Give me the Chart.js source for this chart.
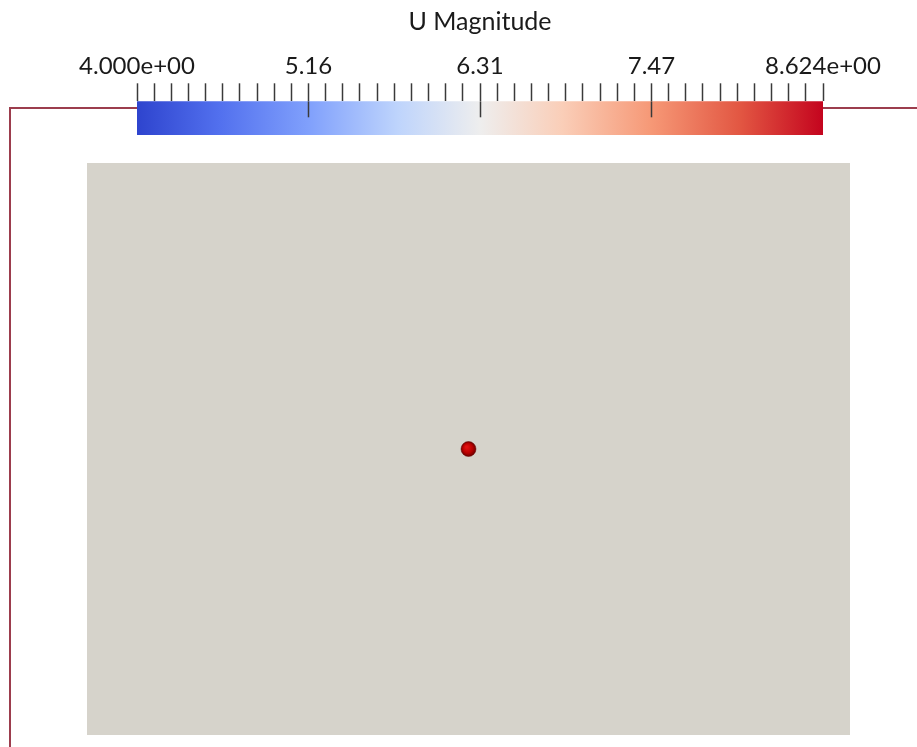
<!DOCTYPE html>
<html>
<head>
<meta charset="utf-8">
<script src="https://cdn.jsdelivr.net/npm/chart.js@4.4.1/dist/chart.umd.min.js"></script>
<style>
    html, body { margin: 0; padding: 0; background: #ffffff; }
    #stage { position: relative; width: 917px; height: 747px; overflow: hidden; background: #ffffff; }
    #frame {
        position: absolute; left: 9px; top: 107px; width: 940px; height: 700px;
        border-left: 2px solid #9c3d4d; border-top: 2px solid #9c3d4d;
    }
    #scene-wrap { position: absolute; left: 87px; top: 163px; width: 763px; height: 572px; }
    #bar-wrap { position: absolute; left: 0; top: 0; width: 917px; height: 137px; }
</style>
</head>
<body>
<div id="stage">
    <div id="frame"></div>
    <div id="scene-wrap"><canvas id="scene"></canvas></div>
    <div id="bar-wrap"><canvas id="colorbar"></canvas></div>
</div>
<script>
// Colour legend range and labels
const rangeMin = 4.000;
const rangeMax = 8.624;
const tickLabels = ['4.000e+00', '5.16', '6.31', '7.47', '8.624e+00'];
const majorValues = [5.156, 6.312, 7.468];
const tickIntervals = 40;

// Scene extents and the probe sphere position
const sceneX = [-1, 1];
const sceneY = [-0.75, 0.75];
const probePoints = [{ x: 0, y: 0 }];

// Cool to Warm colour map
const coolWarm = [
    [0.00, 'rgb(46, 68, 206)'],
    [0.12, 'rgb(82, 112, 238)'],
    [0.25, 'rgb(128, 160, 252)'],
    [0.38, 'rgb(190, 212, 252)'],
    [0.50, 'rgb(238, 238, 238)'],
    [0.62, 'rgb(250, 206, 184)'],
    [0.75, 'rgb(246, 152, 118)'],
    [0.88, 'rgb(226, 86, 66)'],
    [1.00, 'rgb(196, 4, 30)']
];

Chart.defaults.font.family = "Lato, 'Noto Sans', sans-serif";
Chart.defaults.animation = false;

const majorTicks = {
    id: 'majorTicks',
    afterDatasetsDraw(chart) {
        const scale = chart.scales.x;
        const area = chart.chartArea;
        const c = chart.ctx;
        c.save();
        c.strokeStyle = '#3a3a3a';
        c.lineWidth = 1.5;
        majorValues.forEach(v => {
            const x = Math.round(scale.getPixelForValue(v)) + 0.5;
            c.beginPath();
            c.moveTo(x, area.top);
            c.lineTo(x, area.top + 16);
            c.stroke();
        });
        c.restore();
    }
};

new Chart(document.getElementById('colorbar'), {
    type: 'bar',
    data: {
        labels: ['U Magnitude'],
        datasets: [{
            data: [[rangeMin, rangeMax]],
            barPercentage: 1,
            categoryPercentage: 1,
            borderWidth: 0,
            backgroundColor: (ctx) => {
                const area = ctx.chart.chartArea;
                if (!area) return coolWarm[0][1];
                const g = ctx.chart.ctx.createLinearGradient(area.left, 0, area.right, 0);
                coolWarm.forEach(([t, col]) => g.addColorStop(t, col));
                return g;
            }
        }]
    },
    options: {
        indexAxis: 'y',
        responsive: true,
        maintainAspectRatio: false,
        layout: { padding: { left: 137, right: 94, top: 4, bottom: 2 } },
        plugins: {
            legend: { display: false },
            tooltip: { enabled: false },
            title: {
                display: true,
                text: 'U Magnitude',
                color: '#1a1a1a',
                font: { size: 25, weight: 'normal' },
                padding: { top: 3, bottom: 11.5 }
            }
        },
        scales: {
            x: {
                position: 'top',
                min: rangeMin,
                max: rangeMax,
                afterBuildTicks: (scale) => {
                    const step = (rangeMax - rangeMin) / tickIntervals;
                    scale.ticks = Array.from({ length: tickIntervals + 1 }, (_, i) => ({ value: rangeMin + i * step }));
                },
                ticks: {
                    autoSkip: false,
                    maxRotation: 0,
                    padding: 3,
                    color: '#1a1a1a',
                    font: { size: 24 },
                    callback: (value, index) => index % 10 === 0 ? tickLabels[index / 10] : ''
                },
                grid: {
                    drawOnChartArea: false,
                    tickLength: 18,
                    tickColor: '#3a3a3a',
                    tickWidth: 1.5
                },
                border: { display: false }
            },
            y: { display: false }
        }
    },
    plugins: [majorTicks]
});

const sceneBackground = {
    id: 'sceneBackground',
    beforeDraw(chart) {
        const a = chart.chartArea;
        chart.ctx.save();
        chart.ctx.fillStyle = '#d6d3cb';
        chart.ctx.fillRect(a.left, a.top, a.right - a.left, a.bottom - a.top);
        chart.ctx.restore();
    }
};

new Chart(document.getElementById('scene'), {
    type: 'scatter',
    data: {
        datasets: [{
            data: probePoints,
            pointRadius: 7.5,
            pointBorderWidth: 0.5,
            pointBorderColor: '#6a0000',
            pointBackgroundColor: (ctx) => {
                const chart = ctx.chart;
                if (!chart.chartArea || !ctx.raw) return '#b00000';
                const px = chart.scales.x.getPixelForValue(ctx.raw.x);
                const py = chart.scales.y.getPixelForValue(ctx.raw.y);
                const g = chart.ctx.createRadialGradient(px - 2, py - 2, 1, px, py, 7.5);
                g.addColorStop(0, '#e01010');
                g.addColorStop(0.6, '#b80000');
                g.addColorStop(1, '#6c0000');
                return g;
            }
        }]
    },
    options: {
        responsive: true,
        maintainAspectRatio: false,
        layout: { padding: 0, autoPadding: false },
        plugins: { legend: { display: false }, tooltip: { enabled: false } },
        scales: {
            x: { type: 'linear', min: sceneX[0], max: sceneX[1], display: false },
            y: { type: 'linear', min: sceneY[0], max: sceneY[1], display: false }
        }
    },
    plugins: [sceneBackground]
});
</script>
</body>
</html>
